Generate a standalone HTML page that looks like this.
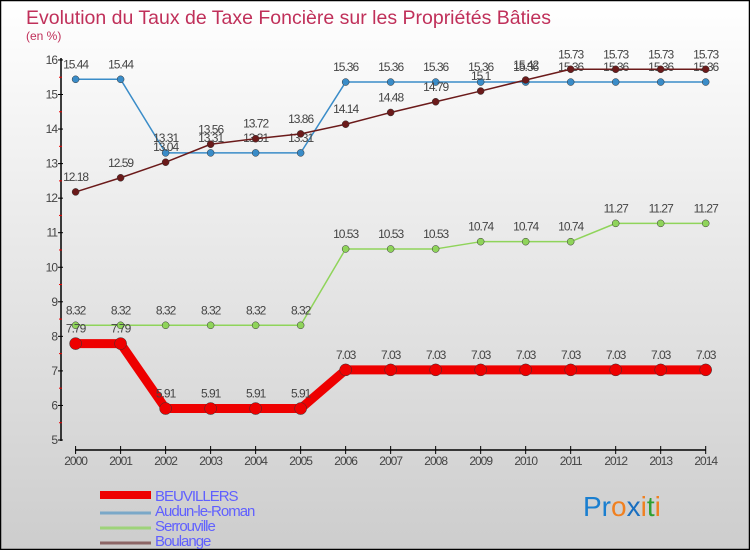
<!DOCTYPE html>
<html><head><meta charset="utf-8"><style>
body{margin:0;width:750px;height:550px;overflow:hidden;font-family:"Liberation Sans",sans-serif}
</style></head><body>
<svg id="chart" width="750" height="550" xmlns="http://www.w3.org/2000/svg" style="display:block">
<defs><linearGradient id="bg" x1="0" y1="0" x2="0" y2="1"><stop offset="0" stop-color="#ffffff"/><stop offset="1" stop-color="#cdcdcd"/></linearGradient></defs>
<rect x="0.5" y="0.5" width="749" height="549" fill="url(#bg)" stroke="#000" stroke-width="1.5"/>
<text x="26" y="24" font-size="19.5" fill="#c0305a">Evolution du Taux de Taxe Foncière sur les Propriétés Bâties</text>
<text x="26" y="40" font-size="12" fill="#c0305a">(en %)</text>
<g id="axes"></g>
<g id="series"></g>
<g id="legend"></g>
<text x="583" y="516" font-size="28" font-weight="normal"><tspan fill="#1a7fd0">Pr</tspan><tspan fill="#f08020">o</tspan><tspan fill="#1a6fc0">x</tspan><tspan fill="#f08020">i</tspan><tspan fill="#30a030">t</tspan><tspan fill="#f08020">i</tspan></text>
</svg>
<script>
const years=[2000,2001,2002,2003,2004,2005,2006,2007,2008,2009,2010,2011,2012,2013,2014];
const beuvillers=[7.79,7.79,5.91,5.91,5.91,5.91,7.03,7.03,7.03,7.03,7.03,7.03,7.03,7.03,7.03];
const audun=[15.44,15.44,13.31,13.31,13.31,13.31,15.36,15.36,15.36,15.36,15.36,15.36,15.36,15.36,15.36];
const serrouville=[8.32,8.32,8.32,8.32,8.32,8.32,10.53,10.53,10.53,10.74,10.74,10.74,11.27,11.27,11.27];
const boulange=[12.18,12.59,13.04,13.56,13.72,13.86,14.14,14.48,14.79,15.1,15.42,15.73,15.73,15.73,15.73];
const yTicks=[5,6,7,8,9,10,11,12,13,14,15,16];
const NS="http://www.w3.org/2000/svg";
const X=i=>75.6+i*(705.7-75.6)/(years.length-1);
const Y=v=>440-(v-5)*34.55;
function el(tag,attrs,parent,txt){const e=document.createElementNS(NS,tag);for(const k in attrs)e.setAttribute(k,attrs[k]);if(txt!==undefined)e.textContent=txt;parent.appendChild(e);return e;}
const ax=document.getElementById('axes');
let a=el('line',{x1:61,y1:58,x2:61,y2:441,stroke:'#000','stroke-width':1.5},ax);


yTicks.forEach(t=>{
 el('line',{x1:58,y1:Y(t),x2:63,y2:Y(t),stroke:'#000'},ax);
 if(t<16) el('line',{x1:59,y1:Y(t+0.5),x2:62,y2:Y(t+0.5),stroke:'#e00'},ax);
 const l=el('text',{x:57,y:Y(t)+4,'font-size':12,fill:'#444','text-anchor':'end','letter-spacing':'-1'},ax,String(t));
 
 
});
a=el('line',{x1:75,y1:450,x2:706,y2:450,stroke:'#000','stroke-width':1.5},ax);


years.forEach((yr,i)=>{
 el('line',{x1:X(i),y1:446,x2:X(i),y2:454,stroke:'#000'},ax);
 const l=el('text',{x:X(i),y:465,'font-size':12,fill:'#444','text-anchor':'middle','letter-spacing':'-1'},ax,String(yr));
 
 
});
const sg=document.getElementById('series');
function draw(vals,color,w,r,name,dy){
 const g=el('g',{},sg);
 
 
 const p=el('polyline',{points:vals.map((v,i)=>X(i)+','+Y(v)).join(' '),fill:'none',stroke:color,'stroke-width':w,'stroke-linejoin':'round'},g);
 
 
 vals.forEach((v,i)=>{
  const c=el('circle',{cx:X(i),cy:Y(v),r:r,fill:color,stroke:'#333','stroke-width':0.5},g);
  
  
  const t=el('text',{x:X(i),y:Y(v)+dy,'font-size':12,fill:'#444','text-anchor':'middle','letter-spacing':'-1'},g,String(v));
  
  
 });
}
draw(serrouville,'#8fd45a',1.5,3.5,'serrouville',-11);
draw(audun,'#3a8cc8',1.5,3.5,'audun-le-roman',-11);
draw(boulange,'#6b1a1a',1.5,3.5,'boulange',-11);
draw(beuvillers,'#ee0000',9,6,'beuvillers',-11);
const lg=document.getElementById('legend');
const items=[['BEUVILLERS','#ee0000',8],['Audun-le-Roman','#7aa8c8',3],['Serrouville','#9ed37a',3],['Boulange','#8c6666',3]];
items.forEach((it,k)=>{
 const y=492+k*15;
 const g=el('g',{},lg);
 
 
 el('line',{x1:100,y1:y+(k?6:3),x2:151,y2:y+(k?6:3),stroke:it[1],'stroke-width':it[2]},g);
 el('text',{x:155,y:y+9,'font-size':15,fill:'#6060ff','letter-spacing':'-1'},g,it[0]);
});
</script>
</body></html>
